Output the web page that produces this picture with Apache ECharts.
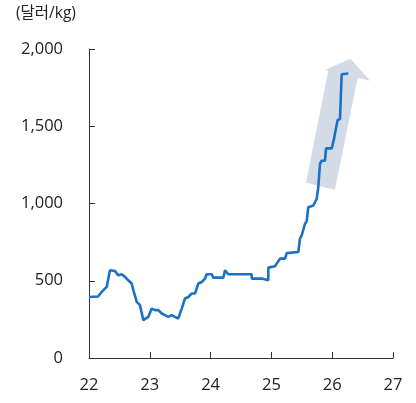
<!DOCTYPE html>
<html><head><meta charset="utf-8">
<script src="https://cdn.jsdelivr.net/npm/echarts@6/dist/echarts.min.js"></script>
<style>html,body{margin:0;padding:0;background:#fff}#c{width:416px;height:403px}</style>
</head><body><div id="c"></div>
<script>
// x = year (22 = 2022), y = price in $/kg
const dates = [22.000,22.148,22.209,22.291,22.345,22.373,22.428,22.482,22.538,22.592,22.646,22.702,22.729,22.785,22.839,22.893,22.921,22.975,23.031,23.086,23.140,23.196,23.250,23.304,23.360,23.414,23.469,23.497,23.525,23.579,23.633,23.689,23.743,23.798,23.854,23.908,23.936,24.018,24.044,24.209,24.237,24.291,24.676,24.677,24.840,24.867,24.949,24.950,25.059,25.087,25.141,25.169,25.224,25.252,25.442,25.470,25.498,25.525,25.553,25.581,25.607,25.689,25.745,25.771,25.799,25.827,25.882,25.898,25.992,26.030,26.051,26.090,26.128,26.153,26.156,26.265];
const prices = [395,398,428,460,568,572,563,535,542,525,503,482,439,363,342,245,234,266,320,310,310,288,277,266,277,266,256,266,320,385,395,417,417,482,492,514,542,542,520,520,568,542,542,514,514,503,503,585,594,611,643,632,643,679,686,772,794,783,869,886,976,987,1030,1105,1256,1277,1277,1357,1357,1418,1465,1540,1546,1546,1837,1841];
const xTicks = [22,23,24,25,26,27];
const yTicks = [0,500,1000,1500,2000];
const unitLabel = '(달러/kg)';
// arrow annotation outline (data coords)
const arrowX = [25.569,26.046,26.418,26.622,26.301,25.882,25.936];
const arrowY = [1135,1089,1816,1795,1937,1866,1861];

const FONT = "'Open Sans','Noto Sans CJK KR',sans-serif";
const chart = echarts.init(document.getElementById('c'));
chart.setOption({
  animation:false,
  backgroundColor:'#fff',
  title:{text:unitLabel,left:11,top:1,textStyle:{fontFamily:FONT,fontSize:15.5,fontWeight:'normal',color:'#222'}},
  grid:{left:89,right:23,top:49,bottom:45,outerBoundsMode:'none'},
  xAxis:{type:'value',min:22,max:27,interval:1,
    axisLine:{lineStyle:{color:'#333',width:1}},
    axisTick:{inside:true,length:6,lineStyle:{color:'#333'}},
    splitLine:{show:false},
    axisLabel:{margin:19,fontFamily:FONT,fontSize:16.5,color:'#222',
      formatter:v=>xTicks.includes(v)?String(v):''}},
  yAxis:{type:'value',min:0,max:2000,interval:500,
    axisLine:{show:true,lineStyle:{color:'#333',width:1}},
    axisTick:{show:true,inside:true,length:6,lineStyle:{color:'#333'}},
    splitLine:{show:false},
    axisLabel:{margin:26,fontFamily:FONT,fontSize:16.5,color:'#222',
      formatter:v=>yTicks.includes(v)?v.toLocaleString('en-US'):''}},
  series:[
    {type:'custom',z:1,silent:true,data:[[0]],
     renderItem:(params,api)=>({type:'polygon',
       shape:{points:arrowX.map((x,i)=>api.coord([x,arrowY[i]]))},
       style:{fill:'#d3dbe7'}})},
    {type:'line',z:2,showSymbol:false,
     data:dates.map((d,i)=>[d,prices[i]]),
     lineStyle:{color:'#1a72c6',width:2.6},itemStyle:{color:'#1a72c6'}}
  ]
});
</script></body></html>
